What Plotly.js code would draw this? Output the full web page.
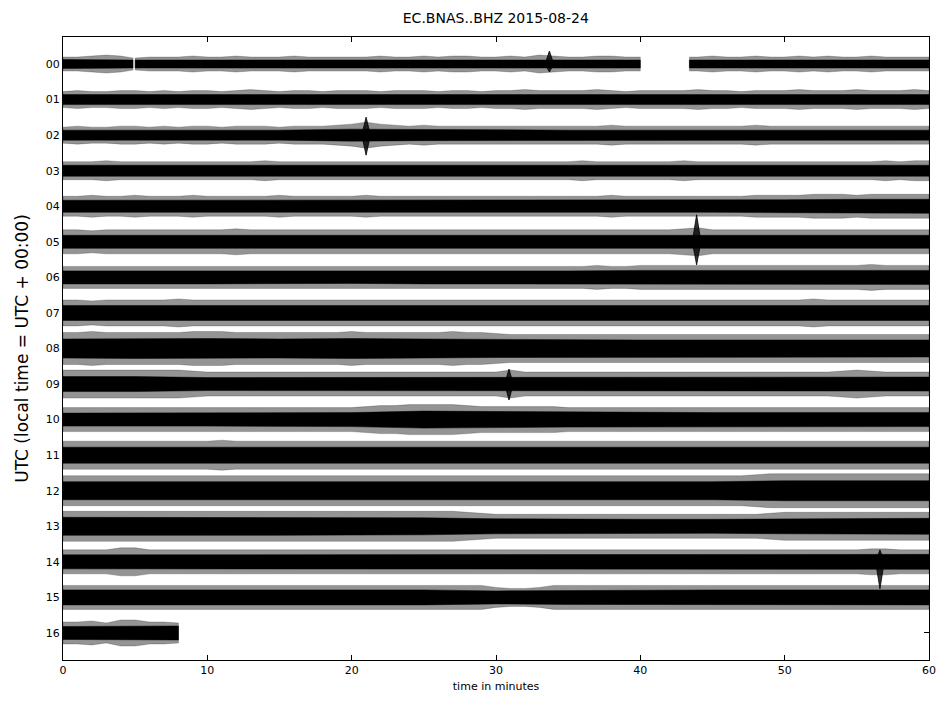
<!DOCTYPE html>
<html>
<head>
<meta charset="utf-8">
<script src="https://cdn.plot.ly/plotly-3.0.1.min.js"></script>
<style>html,body{margin:0;padding:0;background:#fff;}#chart{width:948px;height:706px;}</style>
</head>
<body>
<div id="chart"></div>
<script>
// Hour labels (rows of the dayplot)
const hourLabels = ["00","01","02","03","04","05","06","07","08","09","10","11","12","13","14","15","16"];
// Minute grid at which the envelope was read (one sample per minute)
const minutes = [0,1,2,3,4,5,6,7,8,9,10,11,12,13,14,15,16,17,18,19,20,21,22,23,24,25,26,27,28,29,30,31,32,33,34,35,36,37,38,39,40,41,42,43,44,45,46,47,48,49,50,51,52,53,54,55,56,57,58,59,60];
// Core (dense) amplitude sampled every 5 minutes
const coreMinutes = [0,5,10,15,20,25,30,35,40,45,50,55,60];

// Peak half-amplitude of the trace per minute (relative units)
const h00 = [7,7,8,9,8,6,7,7,7,8, 7,7,8,7,7,7,8,7,7,7, 7,7,8,7,7,8,7,8,8,7, 7,8,7,9,8,7,7,8,8,7, 7,null,null,null,7,8,7,7,8,7, 7,8,7,8,7,7,8,7,7,7, 7];
const h01 = [8,9,8,8,9,9,8,9,8,9, 9,8,9,10,9,8,9,9,8,9, 9,9,8,9,9,9,8,9,9,8, 9,9,10,9,9,9,9,10,9,8, 9,9,9,9,10,9,9,8,9,9, 9,10,9,9,9,10,9,9,9,10, 9];
const h02 = [8,9,8,8,9,9,8,9,8,9, 9,8,9,9,9,8,9,9,9,10, 11,13,11,10,9,10,9,9,9,9, 9,9,9,9,9,9,9,9,10,9, 9,9,9,9,9,9,9,9,10,9, 9,9,9,9,9,9,9,9,9,9, 9];
const h03 = [9,9,9,10,9,9,9,9,9,9, 9,9,9,9,10,9,9,9,9,9, 9,9,9,9,9,9,9,9,9,9, 9,9,9,9,9,9,10,9,9,9, 9,9,9,10,9,9,9,9,9,9, 9,9,9,9,9,9,9,10,9,10, 10];
const h04 = [10,10,11,10,10,11,10,10,10,11, 10,10,10,10,10,11,10,10,10,10, 10,11,10,10,10,10,10,10,10,10, 10,10,10,10,10,10,10,10,11,10, 10,10,10,10,10,10,10,10,11,11, 11,11,12,12,12,11,12,12,12,12, 12];
const h05 = [12,12,11,12,12,12,12,12,12,12, 12,12,13,12,12,12,12,12,12,12, 12,12,12,12,12,12,12,12,12,12, 12,12,12,12,12,12,12,12,12,12, 12,12,12,13,14,12,12,12,12,12, 12,12,12,12,12,12,12,12,12,12, 12];
const h06 = [11,11,11,11,11,11,11,11,11,11, 11,11,11,11,11,11,11,11,11,11, 11,11,11,11,11,11,11,11,11,11, 11,11,11,11,11,11,11,12,11,11, 12,12,12,12,12,12,12,12,12,12, 12,12,12,12,12,12,13,12,12,12, 12];
const h07 = [13,13,12,13,13,13,13,13,14,13, 13,13,13,13,13,13,13,13,13,13, 13,13,13,13,13,13,13,13,13,13, 13,13,13,13,13,13,13,13,13,13, 13,13,13,13,13,13,13,13,13,13, 13,13,14,13,13,13,13,13,13,13, 13];
const h08 = [16,16,17,16,16,16,16,16,16,17, 17,17,16,16,16,16,16,16,16,16, 17,16,16,16,16,16,16,17,16,16, 15,14,14,14,14,14,14,14,14,14, 14,14,14,14,14,14,14,14,14,14, 14,14,14,14,14,14,14,14,14,14, 14];
const h09 = [14,14,14,14,14,14,14,14,14,13, 12,12,12,12,12,12,12,12,12,12, 12,12,12,12,12,12,12,12,12,12, 12,14,12,12,12,12,12,12,12,12, 12,12,12,12,12,12,12,12,12,12, 12,12,12,12,13,14,13,12,12,12, 12];
const h10 = [12,12,12,12,12,12,12,12,12,12, 12,12,12,12,12,12,12,12,12,12, 12,13,14,14,15,15,15,15,14,13, 13,13,13,13,13,12,12,12,12,12, 12,12,12,12,12,12,12,12,12,12, 12,12,12,12,12,12,12,12,12,12, 12];
const h11 = [14,14,14,14,14,14,14,14,14,14, 14,15,14,14,14,14,14,14,14,14, 14,14,14,14,14,14,14,14,14,14, 14,14,14,14,14,14,14,14,14,14, 14,14,14,14,14,14,14,14,14,14, 14,14,14,14,14,14,14,14,14,14, 14];
const h12 = [15,15,15,15,15,15,15,15,15,15, 15,15,15,15,15,15,15,15,15,15, 15,15,15,15,15,15,15,15,15,15, 15,15,15,15,15,15,15,15,15,15, 15,15,15,15,15,15,15,15,16,17, 17,17,17,17,17,17,17,17,17,17, 17];
const h13 = [15,15,15,15,15,15,15,15,15,15, 15,15,15,15,15,15,15,15,15,15, 15,15,15,15,15,15,15,15,14,13, 12,12,12,12,12,12,12,12,12,12, 12,12,12,12,12,12,12,12,12,13, 14,14,14,14,14,14,14,14,14,14, 14];
const h14 = [12,12,12,12,14,14,12,12,12,12, 12,12,12,12,12,12,12,12,12,12, 12,12,12,12,12,12,12,12,12,12, 12,12,12,12,12,12,12,12,12,12, 12,12,12,12,12,12,12,12,12,12, 12,12,12,12,12,12,13,13,12,12, 12];
const h15 = [12,12,12,12,12,12,12,12,12,12, 12,12,12,12,12,12,12,12,12,12, 12,12,12,12,12,12,12,12,12,12, 10,9,9,10,12,12,12,12,12,12, 12,12,12,12,12,12,12,12,12,12, 12,12,12,12,12,12,12,12,12,12, 12];
const h16 = [11,11,12,10,13,13,11,11,10];

// Core (dense) half-amplitude every 5 minutes
const c00 = [4.5,4,4,4,4,4,4,4,4,4,4,4,4];
const c01 = [5,5,5,5,5,5,5,5,5,5,5,5,5];
const c02 = [5,5,5,5,6,5.5,5,5,5,5,5,5,5];
const c03 = [5.5,5.5,5.5,5.5,5.5,5.5,5.5,5.5,5.5,5.5,5.5,5.5,5.5];
const c04 = [6,6,6,6,6,6,6,6,6,6,6.5,7,7];
const c05 = [6.5,6.5,6.5,7,7,6.5,6.5,6.5,6.5,6.5,6.5,6.5,6.5];
const c06 = [6.5,6.5,6.5,6.5,6,6.5,6.5,6.5,7,7,7,7,7];
const c07 = [7.5,7.5,7.5,7.5,7.5,7.5,7.5,7.5,7.5,7.5,7.5,7.5,7.5];
const c08 = [9.5,10,10,9.5,10,9.5,9,8.5,8.5,8.5,8.5,8.5,8.5];
const c09 = [7.5,7.5,6.5,6.5,6.5,6.5,7,6.5,6.5,6.5,6.5,7,7];
const c10 = [6.5,6.5,6.5,6.5,7,8.5,8,7.5,7,7,7,7,7];
const c11 = [8,8,8,8,8,8,8,8,8,8,8,8,8];
const c12 = [9,9,9,9,9,9,9,9,9,9,10,10,10];
const c13 = [9,9,9,9,9,8.5,7.5,7,7,7,7.5,8,8];
const c14 = [7,7,7,7,7,7,7,7,7,7,7,7.5,7.5];
const c15 = [7.5,7.5,7.5,7.5,7.5,7.5,6.5,7,7.5,7.5,7.5,7.5,7.5];
const c16 = [6.5,7];

// End of recorded data in each hour (minutes)
const dataEnd = [60,60,60,60,60,60,60,60,60,60,60,60,60,60,60,60,8.0];
// Data gaps
const gapHour  = [0, 0];
const gapStart = [4.85, 40.0];
const gapEnd   = [5.0, 43.4];

// Transient events (short high-amplitude arrivals)
const eventHour = [2, 5, 14, 9, 0];
const eventMin  = [21.0, 43.9, 56.6, 30.9, 33.7];
const eventUp   = [18, 27, 12, 15, 13];
const eventDown = [20, 23, 27, 16, 8];

// ---------- rendering ----------
const peaks = [h00,h01,h02,h03,h04,h05,h06,h07,h08,h09,h10,h11,h12,h13,h14,h15,h16];
const cores = [c00,c01,c02,c03,c04,c05,c06,c07,c08,c09,c10,c11,c12,c13,c14,c15,c16];
const ampScale = 1/35.56;   // relative amplitude units -> row units

function segmentsFor(h){
  let segs = [[0, dataEnd[h]]];
  for (let g=0; g<gapHour.length; g++){
    if (gapHour[g] !== h) continue;
    const out = [];
    segs.forEach(([s,e])=>{
      if (gapEnd[g] <= s || gapStart[g] >= e){ out.push([s,e]); return; }
      if (gapStart[g] > s) out.push([s, gapStart[g]]);
      if (gapEnd[g] < e) out.push([gapEnd[g], e]);
    });
    segs = out;
  }
  return segs;
}
function nearestVal(xs, vs, x){
  let best=null, bd=1e9;
  for (let i=0;i<vs.length;i++){
    if (vs[i]===null || vs[i]===undefined) continue;
    const d=Math.abs(xs[i]-x);
    if (d<bd){bd=d;best=vs[i];}
  }
  return best;
}
function envelope(xs, vs, h, shapeX, shapeY){
  segmentsFor(h).forEach(([s,e])=>{
    const px=[s], pa=[nearestVal(xs,vs,s)];
    for (let i=0;i<vs.length;i++){
      if (vs[i]===null) continue;
      if (xs[i]>s && xs[i]<e){ px.push(xs[i]); pa.push(vs[i]); }
    }
    px.push(e); pa.push(nearestVal(xs,vs,e));
    for (let i=0;i<px.length;i++){ shapeX.push(px[i]); shapeY.push(h - pa[i]*ampScale); }
    for (let i=px.length-1;i>=0;i--){ shapeX.push(px[i]); shapeY.push(h + pa[i]*ampScale); }
    shapeX.push(px[0]); shapeY.push(h - pa[0]*ampScale);
    shapeX.push(null); shapeY.push(null);
  });
}

const ox=[], oy=[], cx=[], cy=[];
for (let h=0; h<peaks.length; h++){
  envelope(minutes.slice(0, peaks[h].length), peaks[h], h, ox, oy);
  envelope(coreMinutes.slice(0, cores[h].length), cores[h], h, cx, cy);
}
const ex=[], ey=[];
for (let i=0;i<eventHour.length;i++){
  const h=eventHour[i], m=eventMin[i];
  ex.push(m-0.3, m, m+0.3, m, m-0.3, null);
  ey.push(h, h-eventUp[i]*ampScale, h, h+eventDown[i]*ampScale, h, null);
}

const traces = [
  {x:ox, y:oy, type:'scatter', mode:'lines', fill:'toself', fillcolor:'rgba(0,0,0,0.42)',
   line:{width:0.5, color:'rgba(0,0,0,0.42)'}, hoverinfo:'skip', showlegend:false},
  {x:cx, y:cy, type:'scatter', mode:'lines', fill:'toself', fillcolor:'#000',
   line:{width:0.5, color:'#000'}, hoverinfo:'skip', showlegend:false},
  {x:ex, y:ey, type:'scatter', mode:'lines', fill:'toself', fillcolor:'rgba(0,0,0,0.8)',
   line:{width:0.8, color:'#000'}, hoverinfo:'skip', showlegend:false}
];

const font = 'DejaVu Sans, Arial, sans-serif';
const layout = {
  width:948, height:706,
  margin:{l:63, r:19, t:37, b:46, pad:0},
  paper_bgcolor:'#fff', plot_bgcolor:'#fff',
  font:{family:font, color:'#000', size:11},
  title:{text:'EC.BNAS..BHZ 2015-08-24', font:{family:font, size:14, color:'#000'},
         x:0.523, xanchor:'center', y:0.975, yanchor:'middle', yref:'container'},
  xaxis:{range:[0,60], tickvals:[0,10,20,30,40,50,60], ticks:'inside', ticklen:5, tickwidth:1,
         tickcolor:'#000', showline:true, linecolor:'#000', linewidth:1, mirror:'ticks',
         showgrid:false, zeroline:false, tickfont:{size:11, family:font},
         title:{text:'time in minutes', font:{size:11, family:font}, standoff:6}},
  yaxis:{range:[16.76,-0.76], tickvals:[0,1,2,3,4,5,6,7,8,9,10,11,12,13,14,15,16], ticktext:hourLabels,
         ticks:'inside', ticklen:5, tickwidth:1, tickcolor:'#000', showline:true, linecolor:'#000',
         linewidth:1, mirror:'ticks', showgrid:false, zeroline:false, tickfont:{size:11, family:font},
         title:{text:'UTC (local time = UTC + 00:00)', font:{size:17, family:font}, standoff:12}}
};
Plotly.newPlot('chart', traces, layout, {displayModeBar:false, staticPlot:true});
</script>
</body>
</html>
